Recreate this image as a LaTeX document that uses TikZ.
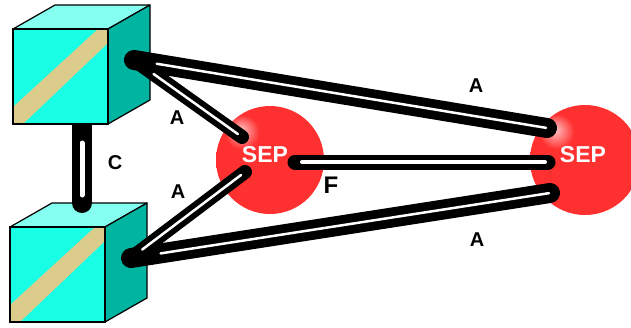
\documentclass[tikz,border=0pt]{standalone}
\usepackage{fontspec}
\setmainfont{Liberation Sans}
\usepackage{xcolor}

\definecolor{cubefront}{RGB}{24,255,230}
\definecolor{cubetop}{RGB}{132,255,240}
\definecolor{cubeside}{RGB}{0,180,162}
\definecolor{stripe}{RGB}{220,204,140}
\definecolor{seplight}{RGB}{255,200,200}
\definecolor{sepred}{RGB}{255,48,48}
\definecolor{sepdark}{RGB}{185,18,18}

\pgfdeclareradialshading{sepball}{\pgfpoint{-14bp}{14bp}}{%
	color(0bp)=(seplight);
	color(8bp)=(sepred);
	color(44bp)=(sepred);
	color(64bp)=(sepdark);
	color(100bp)=(sepdark)}

\tikzset{
	link/.style={line width=#1, line cap=round, black},
	core/.style={line width=#1, line cap=round, white},
	lbl/.style={font=\bfseries\fontsize{20}{20}\selectfont, inner sep=0pt},
	septxt/.style={font=\bfseries\fontsize{23}{23}\selectfont, text=white, inner sep=0pt},
	ball/.style={circle, shading=sepball, inner sep=0pt, minimum size=#1}
}

\begin{document}
\begin{tikzpicture}[x=1pt,y=-1pt,>=latex]
	\useasboundingbox (0,0) rectangle (631,327);

	\node[ball=108pt] (sepL) at (270,160) {};
	\node[ball=110pt] (sepR) at (585,160) {};
	\node[septxt] (sepLtxt) at (265,155) {SEP};
	\node[septxt] (sepRtxt) at (583,155) {SEP};

	\coordinate (cTop) at (82,112);
	\coordinate (cBot) at (82,203);

	\foreach \i in {2,1}{
			\ifnum\i=1
				\edef\cx{13}
				\edef\cy{29}
				\draw[link=20pt] (cTop) -- (cBot);
				\draw[core=5pt, shorten <=31pt, shorten >=8pt] (cTop) -- (cBot);
			\else
				\edef\cx{10}
				\edef\cy{227}
			\fi
			\begin{scope}[shift={(\cx,\cy)}]
				\filldraw[fill=cubetop, draw=black, line width=1.2pt, line join=round] (0,0) -- (42,-24) -- (137,-24) -- (95,0) -- cycle;
				\filldraw[fill=cubeside, draw=black, line width=1.2pt, line join=round] (95,0) -- (137,-24) -- (137,71) -- (95,95) -- cycle;
				\fill[cubefront] (0,0) rectangle (95,95);
				\fill[stripe] (0,78) -- (85,0) -- (95,0) -- (95,14) -- (10,95) -- (0,95) -- cycle;
				\draw[line width=1.4pt] (0,0) rectangle (95,95);
				\coordinate (port\i) at (121,31);
			\end{scope}
		}

	\coordinate (sepLa) at (242,137);
	\coordinate (sepLb) at (245,172);
	\coordinate (sepLc) at (295,162);
	\coordinate (sepRa) at (547,128);
	\coordinate (sepRb) at (548,162);
	\coordinate (sepRc) at (550,193);

	\draw[link=20pt] (port1) -- (sepRa);
	\draw[link=20pt] (port2) -- (sepRc);
	\draw[link=14pt] (port1) -- (sepLa);
	\draw[link=14pt] (port2) -- (sepLb);
	\draw[link=15pt] (sepLc) -- (sepRb);

	\draw[core=2.5pt, shorten <=23pt, shorten >=1pt] (port1) -- (sepRa);
	\draw[core=2.5pt, shorten <=30pt, shorten >=1pt] (port2) -- (sepRc);
	\draw[core=2.5pt, shorten <=24pt, shorten >=5pt] (port1) -- (sepLa);
	\draw[core=2.5pt, shorten <=14pt, shorten >=5pt] (port2) -- (sepLb);
	\draw[core=4pt, shorten <=7pt, shorten >=3pt] (sepLc) -- (sepRb);

	\node[lbl] (a1) at (177,118) {A};
	\node[lbl] (a2) at (178,192) {A};
	\node[lbl] (a3) at (476,86) {A};
	\node[lbl] (a4) at (477,240) {A};
	\node[lbl] (c1) at (115,163) {C};
	\node[lbl, font=\bfseries\fontsize{24}{24}\selectfont] (f1) at (331,185) {F};
\end{tikzpicture}
\end{document}
